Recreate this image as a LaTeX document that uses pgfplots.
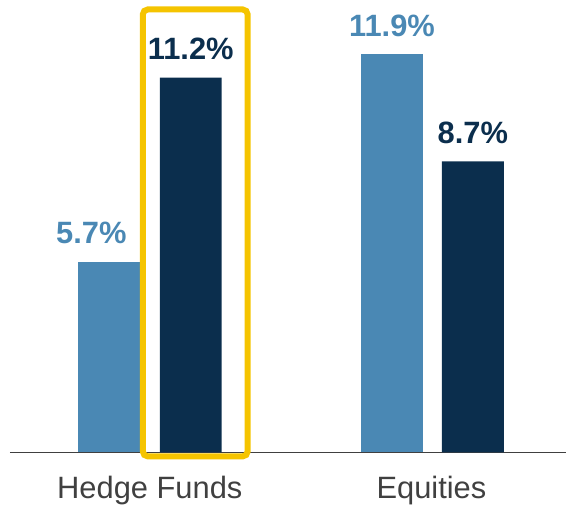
\documentclass[border=0pt]{standalone}
\usepackage{fontspec}
\setmainfont{Liberation Sans}
\usepackage{pgfplots}
\pgfplotsset{compat=1.18}
\definecolor{lightblue}{HTML}{4A88B4}
\definecolor{navy}{HTML}{0B2E4D}
\definecolor{gold}{HTML}{F5C400}
\definecolor{txtgray}{HTML}{404040}
\begin{document}
\begin{tikzpicture}
\begin{axis}[
  scale only axis, width=567bp, height=509bp,
  xmin=0, xmax=567, ymin=-1.6716, ymax=13.5224,
  hide axis, clip=false,
  /pgf/number format/assume math mode=true,
  every axis plot/.append style={ybar, bar width=62, bar shift=0pt, draw=none},
  nodes near coords={\pgfmathprintnumber[fixed,precision=1,fixed zerofill,assume math mode=true]{\pgfplotspointmeta}\%},
  every node near coord/.append style={font=\fontsize{31}{31}\selectfont\bfseries, anchor=base, inner sep=0pt, yshift=18bp},
]
\path (rel axis cs:0,0) rectangle (rel axis cs:1,1);
\draw[txtgray, line width=1.5bp] (axis cs:10,0) -- (axis cs:567,0);
\addplot[fill=lightblue, every node near coord/.append style={text=lightblue},
  nodes near coords style={xshift=-18bp}] coordinates {(109.5,5.7)};
\addplot[fill=lightblue, every node near coord/.append style={text=lightblue}] coordinates {(392.5,11.9)};
\addplot[fill=navy, every node near coord/.append style={text=navy}] coordinates {(191,11.2) (473.5,8.7)};
\draw[gold, line width=6bp, rounded corners=5bp] (axis cs:143,-0.119) rectangle (axis cs:248,13.24);
\node[anchor=base, inner sep=0pt, text=txtgray, font=\fontsize{31}{31}\selectfont] at (axis cs:150,-1.373) {Hedge Funds};
\node[anchor=base, inner sep=0pt, text=txtgray, font=\fontsize{31}{31}\selectfont] at (axis cs:432,-1.373) {Equities};
\end{axis}
\end{tikzpicture}
\end{document}
